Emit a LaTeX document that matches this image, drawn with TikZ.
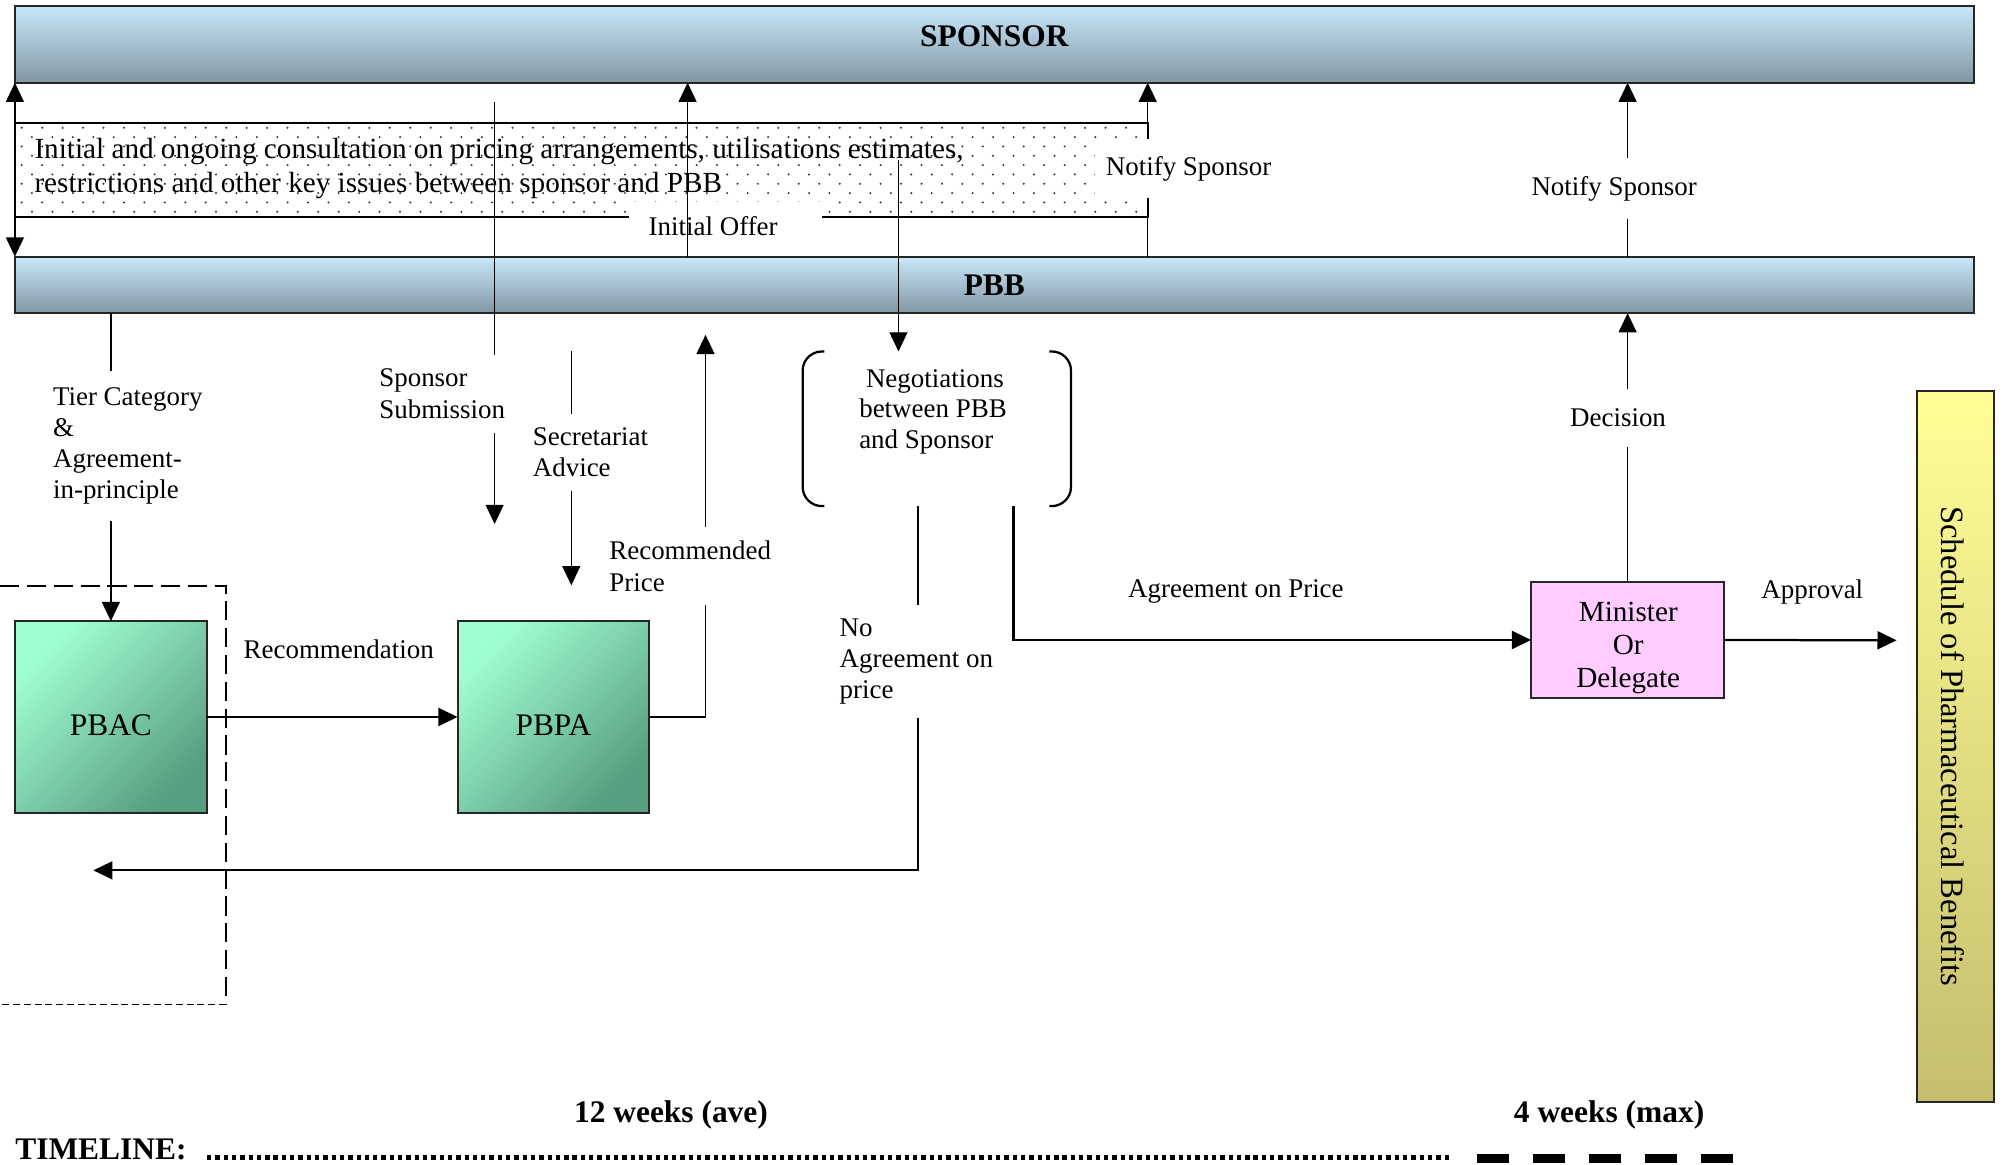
\documentclass[tikz,border=0pt]{standalone}
\usepackage{fontspec}
\setmainfont{Liberation Serif}
\usetikzlibrary{arrows.meta}
\definecolor{barTop}{RGB}{200,232,250}
\definecolor{barBot}{RGB}{130,150,163}
\definecolor{grnA}{RGB}{160,255,210}
\definecolor{grnB}{RGB}{88,158,128}
\definecolor{ylwA}{RGB}{255,255,150}
\definecolor{ylwB}{RGB}{196,190,110}
\definecolor{pnk}{RGB}{255,204,255}
\begin{document}
\begin{tikzpicture}[x=0.02cm,y=-0.02cm,
  every node/.style={font=\fontsize{12}{13.9}\selectfont, inner sep=0pt, outer sep=0pt},
  tip/.style={-{Triangle[length=0.3cm,width=0.28cm]}},
  arr/.style={line width=0.6pt, tip},
  harr/.style={line width=1pt, tip},
  bar/.style={draw=black!85, line width=0.9pt, top color=barTop, bottom color=barBot, minimum width=30.67cm},
  grnbox/.style={draw=black!85, line width=0.9pt, top color=grnA, bottom color=grnB, shading angle=45,
     minimum width=3.0cm, minimum height=3.0cm, text height=0.57cm, text depth=0pt, font=\fontsize{14}{16}\selectfont},
  lbl/.style={fill=white, align=left},
  bigbold/.style={font=\bfseries\fontsize{14}{16}\selectfont}
]
\useasboundingbox (0,0) rectangle (1568,911);

% bars
\node[bar, minimum height=1.2cm] (sponsor) at (778.25,34.7) {};
\node[bigbold] (sponsortxt) at (778,28) {SPONSOR};
\node[bar, minimum height=0.884cm] (pbb) at (778.25,222.9) {};
\node[bigbold] (pbbtxt) at (778,223) {PBB};

% dotted consultation box
\foreach \r in {0,...,9}{
  \pgfmathsetmacro{\yy}{100+7.3*\r}
  \pgfmathsetmacro{\xs}{17+8*mod(\r,2)}
  \foreach \c in {0,...,54}{
    \fill[black!80] (\xs+16*\c,\yy) circle (0.5pt);
  }
}
\draw[line width=0.9pt] (11.5,96) rectangle (898,170);
\node[align=left, anchor=west, font=\fontsize{13}{15.3}\selectfont] (consult) at (27,132)
  {Initial and ongoing consultation on pricing arrangements, utilisations estimates,\\restrictions and other key issues between sponsor and PBB};

% Initial offer label (behind its arrow)
\fill[white] (492,158) rectangle (643,200);
\node (offertxt) at (558,177) {Initial Offer};

% boxes
\node[grnbox] (pbac) at (86.75,561) {PBAC};
\node[grnbox] (pbpa) at (433,561) {PBPA};
\node[draw=black!85, line width=1pt, fill=pnk, minimum width=3.02cm, minimum height=1.81cm] (minister) at (1273.5,500.75) {};
\node[align=center, font=\fontsize{13}{14.7}\selectfont] (mintxt) at (1274,507) {Minister\\Or\\Delegate};
\node[draw=black!85, line width=0.9pt, top color=ylwA, bottom color=ylwB, minimum width=1.2cm, minimum height=11.12cm] (sched) at (1530,584) {};
\node[rotate=-90, font=\fontsize{14.5}{17}\selectfont] (schedtxt) at (1528,584) {Schedule of Pharmaceutical Benefits};

% negotiation bracket
\node[minimum width=4.2cm, minimum height=2.42cm] (nego) at (733,335.5) {};
\draw[line width=1pt, rounded corners=0.3cm] ([xshift=0.34cm]nego.north west) -- (nego.north west) -- (nego.south west) -- ([xshift=0.34cm]nego.south west);
\draw[line width=1pt, rounded corners=0.3cm] ([xshift=-0.34cm]nego.north east) -- (nego.north east) -- (nego.south east) -- ([xshift=-0.34cm]nego.south east);
\node[align=left, font=\fontsize{12}{13.6}\selectfont] (negotxt) at (730,322) {\hspace*{3pt}Negotiations\\between PBB\\and Sponsor};

% dashed region
\draw[line width=0.7pt, dash pattern=on 0.3cm off 0.12cm] (0,458.5) -- (177,458.5) -- (177,786);
\draw[line width=0.7pt, dash pattern=on 0.11cm off 0.06cm] (177,786) -- (0,786);

% free ends
\coordinate (subtop) at (387,80);
\coordinate (subtip) at (387,410);
\coordinate (negtop) at (703,125);
\coordinate (sectop) at (447,275);
\coordinate (sectip) at (447,458);
\coordinate (rptip) at (552,262);
\coordinate (natip) at (73,681);
\coordinate (aptip) at (1484,501);

% connectors
\draw[line width=0.6pt, {Triangle[length=0.3cm,width=0.28cm]}-{Triangle[length=0.3cm,width=0.28cm]}] (sponsor.south west) -- (pbb.north west);
\draw[arr] (subtop) -- (subtip);
\draw[arr] (pbb.north -| 538,0) -- (sponsor.south -| 538,0);
\draw[arr] (negtop) -- (nego.north -| 703,0);
\draw[arr] (pbb.north -| 898,0) -- (sponsor.south -| 898,0);
\draw[arr] (pbb.north -| minister.north) -- (sponsor.south -| minister.north);
\draw[arr] (minister.north) -- (pbb.south -| minister.north);
\draw[arr] (pbb.south -| pbac.north) -- (pbac.north);
\draw[arr] (sectop) -- (sectip);
\draw[harr] (pbac.east) -- (pbpa.west);
\draw[line width=0.8pt, tip] (pbpa.east) -| (rptip);
\draw[harr] (nego.south -| 718,0) |- (natip);
\draw[harr] (nego.south -| 793,0) |- (minister.west);
\draw[harr] (minister.east) -- (aptip);

% labels with white ground
\node[lbl, minimum width=2.48cm, minimum height=2.36cm] (tierlbl) at (100,349) {Tier Category\\\&\\Agreement-\\in-principle};
\node[lbl, minimum width=2.16cm, minimum height=1.22cm] (sublbl) at (346,308) {Sponsor\\Submission};
\node[lbl, minimum width=2.0cm, minimum height=1.2cm] (seclbl) at (462,354) {Secretariat\\Advice};
\node[lbl, minimum width=2.72cm, minimum height=1.22cm] (rplbl) at (540,443) {Recommended\\Price};
\node[lbl, minimum width=2.6cm, minimum height=1.78cm] (nalbl) at (717,517.5) {No\\Agreement on\\price};
\node[lbl, minimum width=1.68cm, minimum height=0.92cm] (declbl) at (1266,327) {Decision};
\node[lbl, minimum width=2.8cm, minimum height=0.94cm] (notr) at (1263,147.5) {Notify Sponsor};
\node[lbl, minimum width=2.94cm, minimum height=0.92cm] (notl) at (930,132) {Notify Sponsor};
\node (reclbl) at (265,508) {Recommendation};
\node (aoplbl) at (967,463) {Agreement on Price};
\node (applbl) at (1418,463) {Approval};

% timeline
\node[bigbold, anchor=base west] (tl) at (12,907) {TIMELINE:};
\draw[line width=0.078cm, dash pattern=on 0.068cm off 0.062cm] (162,905.5) -- (1134,905.5);
\draw[line width=0.13cm, dash pattern=on 0.5cm off 0.375cm] (1156,906.5) -- (1356,906.5);
\node[bigbold, anchor=base] (w12) at (525,878) {12 weeks (ave)};
\node[bigbold, anchor=base] (w4) at (1259,878) {4 weeks (max)};
\end{tikzpicture}
\end{document}
